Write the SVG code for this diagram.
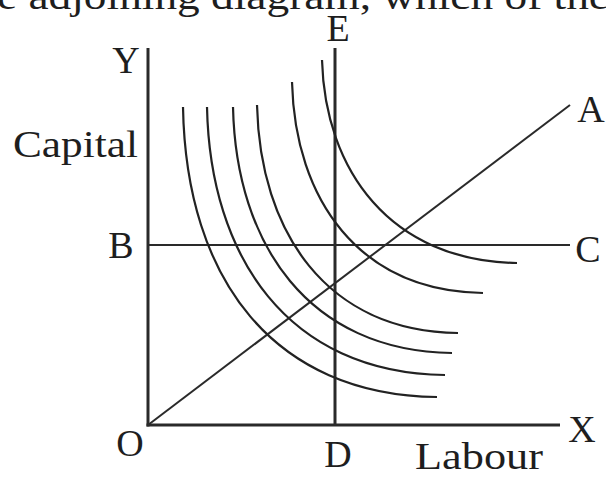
<svg xmlns="http://www.w3.org/2000/svg" width="606" height="477" viewBox="0 0 606 477">
<style>
.ax{stroke:#2a2a2a;stroke-width:3;fill:none;stroke-linecap:butt}
.ln{stroke:#2a2a2a;stroke-width:2;fill:none}
.iq{stroke:#222;stroke-width:2.2;fill:none;stroke-linecap:butt}
.t{font-family:"Liberation Serif","Times New Roman",serif;font-size:38px;fill:#1e1e1e}
</style>
<rect width="606" height="477" fill="#fff"/>
<text class="t" x="-3" y="9" font-size="40" textLength="612" lengthAdjust="spacingAndGlyphs">e adjoining diagram, which of the</text>
<g id="connectors">
<line class="ax" x1="148" y1="48" x2="148" y2="426.5"/>
<line class="ax" x1="146.5" y1="425" x2="560" y2="425"/>
<line class="ax" x1="335" y1="48" x2="335" y2="425" stroke-width="2.6"/>
<line class="ln" x1="148" y1="245" x2="570" y2="245"/>
<line class="ln" x1="148" y1="425" x2="570" y2="105"/>
</g>
<g id="isoquants">
<path id="iq1" class="iq" d="M183,107 C186,280 274,395 437,397"/>
<path id="iq2" class="iq" d="M207,107 C210,256 287,373 445,375"/>
<path id="iq3" class="iq" d="M233,107 C236,245 309,351 452,353"/>
<path id="iq4" class="iq" d="M257,105 C260,232 326,331 458,333"/>
<path id="iq5" class="iq" d="M292,82 C295,200 359,291 483,293"/>
<path id="iq6" class="iq" d="M322,60 C325,170 390,261 517,263"/>
</g>
<g id="labels">
<text class="t" x="126" y="73" text-anchor="middle">Y</text>
<text class="t" x="13" y="157" textLength="125" lengthAdjust="spacingAndGlyphs">Capital</text>
<text class="t" x="121" y="258" text-anchor="middle">B</text>
<text class="t" x="588" y="262" text-anchor="middle">C</text>
<text class="t" x="591" y="122" text-anchor="middle">A</text>
<text class="t" x="338" y="41" text-anchor="middle">E</text>
<text class="t" x="130" y="456" text-anchor="middle">O</text>
<text class="t" x="338" y="467" text-anchor="middle">D</text>
<text class="t" x="582" y="442" text-anchor="middle">X</text>
<text class="t" x="415" y="469" textLength="128" lengthAdjust="spacingAndGlyphs">Labour</text>
</g>
</svg>
